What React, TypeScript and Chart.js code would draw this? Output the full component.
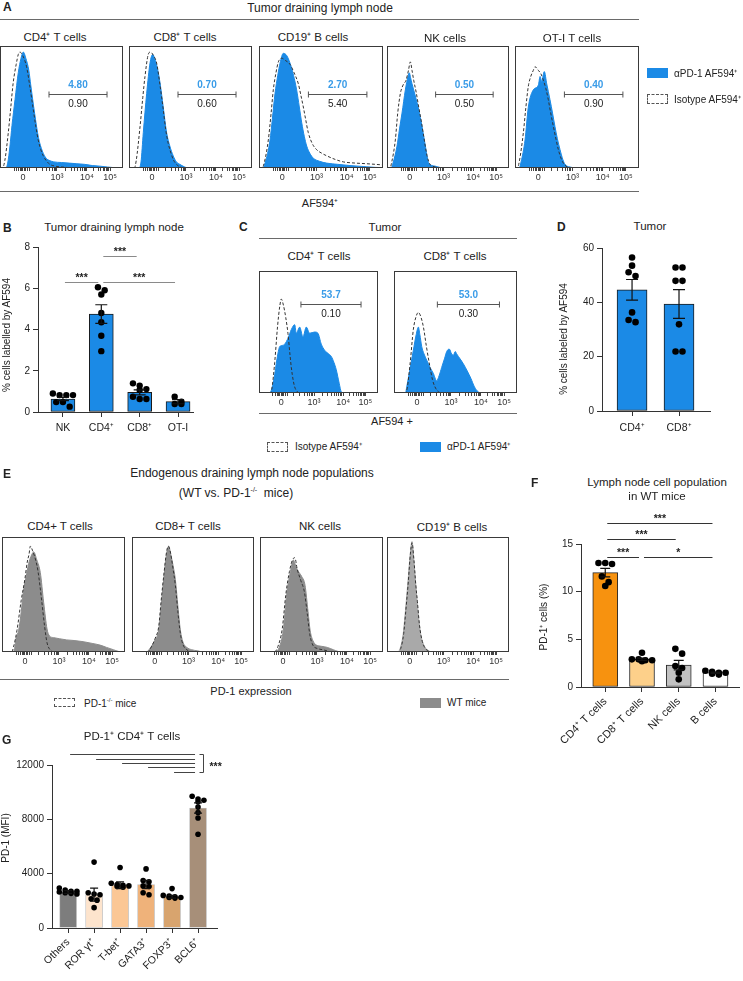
import React, { useEffect, useRef } from 'react';
import { Chart, registerables } from 'chart.js';
Chart.register(...registerables);

const FONT = '"Liberation Sans", Arial, Helvetica, sans-serif';
Chart.defaults.font.family = FONT;
Chart.defaults.color = '#222';

// ---------------- histogram axis (channel units 0..1024) ----------------
const HIST_TICK_MAJOR = [191, 474, 724, 916];
const HIST_TICK_LABELS = ['0', '10³', '10⁴', '10⁵'];
const HIST_TICK_MINOR = [120, 140, 155, 168, 180, 202, 214, 228, 245, 300, 350, 390, 415, 435, 450, 462,
  549, 593, 624, 649, 669, 685, 700, 712, 782, 816, 840, 858, 873, 886, 897, 907];

// ---------------- Panel A: tumor draining lymph node (channel, % of max) ----------------
const A_CD4_AF = [[0,0],[48,0],[64,4],[83,18],[100,35],[125,56],[152,78],[175,90],[194,95],[215,90],[240,80],[256,68],[288,45],[320,25],[352,14],[384,8],[416,6],[448,5],[512,4.5],[576,4],[640,3.5],[704,3],[768,2],[832,1.5],[896,0.8],[960,0.2],[1000,0],[1024,0]];
const A_CD4_ISO = [[0,0],[20,0],[40,6],[69,29],[90,50],[110,70],[135,85],[152,93],[166,95],[190,92],[221,83],[250,66],[277,48],[300,33],[318,23],[340,15],[360,10],[385,6],[415,3],[460,1.5],[550,0.5],[600,0],[1024,0]];
const A_CD8_AF = [[0,0],[80,0],[100,5],[119,29],[147,61],[175,86],[197,93],[220,88],[240,80],[258,70],[285,50],[313,29],[340,18],[368,10],[395,5],[423,3],[460,1],[490,0],[1024,0]];
const A_CD8_ISO = [[0,0],[45,0],[60,6],[92,34],[115,58],[133,75],[160,93],[178,95],[205,92],[230,86],[258,68],[285,48],[305,32],[327,20],[350,12],[368,7],[395,3],[423,1],[460,0],[1024,0]];
const A_CD19_AF = [[0,0],[30,0],[50,4],[91,23],[110,40],[132,61],[155,76],[174,86],[201,94],[230,92],[256,86],[285,76],[311,64],[333,50],[353,37],[374,26],[394,18],[420,12],[449,8],[500,5.5],[559,4],[650,3],[751,2],[890,1],[960,0.5],[1024,0.3]];
const A_CD19_ISO = [[0,0],[25,0],[45,5],[77,23],[100,45],[118,64],[140,78],[160,87],[187,90],[220,88],[256,85],[290,78],[325,69],[345,60],[366,50],[385,40],[407,29],[440,20],[476,15],[520,12],[559,10],[630,7],[697,5],[800,4],[890,3.5],[1000,2.7],[1024,2.5]];
const A_NK_AF = [[0,0],[35,0],[50,4],[84,18],[105,32],[126,45],[154,64],[176,75],[187,78],[198,74],[210,69],[238,59],[266,48],[294,34],[322,18],[340,8],[350,4],[405,1.5],[475,0],[1024,0]];
const A_NK_ISO = [[0,0],[25,0],[40,5],[70,23],[90,45],[112,61],[135,68],[160,72],[180,80],[196,87],[210,80],[224,72],[245,62],[266,50],[290,37],[308,26],[336,10],[361,3],[400,1],[450,0],[1024,0]];
const A_OT_AF = [[0,0],[35,0],[50,5],[83,23],[110,50],[151,64],[193,68],[207,75],[220,71],[242,79],[262,69],[289,56],[310,45],[330,34],[350,24],[372,15],[395,7],[413,3],[468,0.5],[500,0],[1024,0]];
const A_OT_ISO = [[0,0],[20,0],[35,5],[69,29],[90,50],[110,67],[130,75],[151,80],[165,83],[193,80],[215,77],[234,72],[255,65],[275,56],[295,45],[317,34],[340,23],[358,15],[380,8],[399,4],[430,1],[470,0],[1024,0]];
const A_GATE = [408, 891, 61];
const A_GATE_AF = ['4.80', '0.70', '2.70', '0.50', '0.40'];
const A_GATE_ISO = ['0.90', '0.60', '5.40', '0.50', '0.90'];

// ---------------- Panel C: tumor ----------------
const C_CD4_AF = [[0,0],[90,0],[105,2],[130,12],[155,28],[178,38],[200,39],[221,40],[250,45],[278,52],[307,56],[321,49],[350,54],[378,46],[407,54],[436,49],[479,50],[507,49],[536,40],[565,35],[600,32],[622,30],[645,25],[665,19],[690,8],[708,1],[730,0],[1024,0]];
const C_CD4_ISO = [[0,0],[95,0],[110,3],[135,25],[160,55],[180,72],[192,77],[210,72],[230,62],[249,49],[265,33],[278,21],[295,10],[307,5],[330,1],[360,0],[1024,0]];
const C_CD8_AF = [[0,0],[95,0],[106,5],[130,18],[161,35],[185,48],[203,54],[215,48],[231,38],[250,32],[272,27],[300,21],[328,16],[355,10],[375,14],[397,21],[420,28],[439,34],[460,36],[480,32],[494,31],[510,34],[522,32],[550,28],[577,24],[610,18],[640,12],[670,5],[700,1],[730,0],[1024,0]];
const C_CD8_ISO = [[0,0],[95,0],[110,4],[135,25],[161,52],[185,63],[203,66],[225,62],[245,54],[270,38],[300,21],[320,11],[341,5],[370,1],[400,0],[1024,0]];
const C_GATE = [361, 878, 73];
const C_GATE_AF = ['53.7', '53.0'];
const C_GATE_ISO = ['0.10', '0.30'];

// ---------------- Panel E: WT vs PD-1-/- ----------------
const E_CD4_WT = [[0,0],[90,0],[105,3],[117,12],[139,19],[160,35],[181,55],[200,65],[222,77],[241,83],[264,87],[290,80],[319,69],[347,43],[375,20],[395,14],[430,12.5],[480,11.5],[539,10.5],[600,10],[675,9],[750,7.5],[816,6],[870,4],[927,2],[970,0.5],[1000,0],[1024,0]];
const E_CD4_KO = [[0,0],[80,0],[95,4],[125,19],[160,45],[190,63],[210,78],[225,85],[236,92],[255,88],[280,80],[300,70],[330,45],[355,22],[375,8],[400,2],[430,0],[1024,0]];
const E_CD8_WT = [[0,0],[120,0],[150,3],[190,10],[224,19],[245,40],[266,63],[290,85],[308,92],[325,85],[345,75],[364,63],[385,40],[406,19],[430,8],[460,4],[500,2],[550,1],[600,0],[1024,0]];
const E_CD8_KO = [[0,0],[130,0],[160,4],[195,12],[224,22],[245,45],[266,66],[290,87],[305,92],[320,88],[345,72],[364,58],[385,35],[406,16],[430,6],[460,2],[500,0],[1024,0]];
const E_NK_WT = [[0,0],[130,0],[160,4],[194,19],[222,50],[250,68],[278,80],[300,74],[320,70],[345,66],[375,58],[400,35],[417,19],[440,10],[470,6],[510,5],[560,4],[610,2],[650,0.5],[700,0],[1024,0]];
const E_NK_KO = [[0,0],[120,0],[150,5],[185,20],[215,50],[245,70],[270,80],[290,82],[310,72],[340,62],[370,52],[395,32],[415,15],[440,6],[480,3],[520,2],[560,1],[600,0],[1024,0]];
const E_CD19_WT = [[0,0],[90,0],[110,3],[135,15],[154,35],[175,60],[195,85],[210,96],[225,80],[240,60],[252,45],[270,25],[290,12],[320,4],[350,1],[380,0],[1024,0]];
const E_CD19_KO = [[0,0],[95,0],[115,3],[140,16],[158,36],[178,60],[197,86],[210,95],[226,80],[242,58],[255,44],[272,24],[292,11],[322,3],[352,1],[380,0],[1024,0]];

// ---------------- Panel B ----------------
const B_CATS = ['NK', 'CD4⁺', 'CD8⁺', 'OT-I'];
const B_MEANS = [0.63, 4.75, 0.95, 0.5];
const B_SEM = [0.08, 0.45, 0.12, 0.1];
const B_NK = [0.82, 0.82, 0.82, 0.9, 0.48, 0.26, 0.48];
const B_CD4 = [6.05, 5.7, 5.9, 4.8, 4.35, 3.7, 2.95];
const B_CD8 = [1.28, 1.07, 1.11, 1.39, 0.63, 0.63, 0.74];
const B_OT = [0.39, 0.39, 0.5, 0.74];
const B_YTICKS = [0, 2, 4, 6, 8];
const B_SIG_FROM = [0, 1, 1];
const B_SIG_TO = [1, 3, 2];
const B_SIG_Y = [6.3, 6.3, 7.56];
const B_SIG_LABEL = ['***', '***', '***'];

// ---------------- Panel D ----------------
const D_CATS = ['CD4⁺', 'CD8⁺'];
const D_MEANS = [44.6, 39.4];
const D_SEM = [3.8, 5.3];
const D_CD4 = [56.5, 53.5, 49.7, 51.1, 36.3, 32.7, 33.5];
const D_CD8 = [52.8, 52.8, 47.9, 47.9, 31.9, 21.9, 21.9];
const D_YTICKS = [0, 20, 40, 60];

// ---------------- Panel F ----------------
const F_CATS = ['CD4⁺ T cells', 'CD8⁺ T cells', 'NK cells', 'B cells'];
const F_MEANS = [12.0, 2.9, 2.3, 1.5];
const F_SEM = [0.45, 0.12, 0.5, 0.07];
const F_CD4 = [13.0, 12.9, 13.0, 11.6, 10.6, 11.0];
const F_CD8 = [2.9, 2.8, 2.9, 3.6, 2.8, 2.7];
const F_NK = [4.0, 3.5, 2.2, 2.0, 0.8, 1.5];
const F_B = [1.7, 1.5, 1.4, 1.6, 1.5, 1.3];
const F_YTICKS = [0, 5, 10, 15];
const F_SIG_FROM = [0, 0, 0, 1];
const F_SIG_TO = [3, 2, 1, 3];
const F_SIG_Y = [17.2, 15.5, 13.6, 13.6];
const F_SIG_LABEL = ['***', '***', '***', '*'];

// ---------------- Panel G ----------------
const G_CATS = ['Others', 'ROR γt⁺', 'T-bet⁺', 'GATA3⁺', 'FOXP3⁺', 'BCL6⁺'];
const G_MEANS = [2650, 2450, 3150, 3200, 2300, 8830];
const G_SEM = [100, 480, 250, 300, 100, 380];
const G_OTHERS = [2950, 2800, 2700, 2600, 2700, 2550, 2650, 2500];
const G_ROR = [4850, 2600, 2450, 2500, 2050, 2150, 1500];
const G_TBET = [4450, 3300, 3200, 3100, 3050, 3000, 3150];
const G_GATA3 = [4350, 3500, 3400, 3100, 3050, 2600, 2450];
const G_FOXP3 = [2900, 2400, 2350, 2300, 2250, 2200, 2250];
const G_BCL6 = [9700, 9500, 9300, 9400, 8900, 8500, 6900, 8100];
const G_YTICKS = [0, 4000, 8000, 12000];
const G_SIG_FROM = [0, 1, 2, 3, 4];
const G_SIG_TO = [5, 5, 5, 5, 5];
const G_SIG_Y = [12844, 12477, 12183, 11816, 11450];
const G_SIG_LABEL = ['', '', '', '', ''];

// ---------------- colours ----------------
const BLUE = '#1b8ae6';
const BLUE_TXT = '#3a9ce8';
const GRAY_FILL = '#8c8c8c';
const GRAY_LIGHT = '#a9a9a9';

const toXY = (c: number[][]) => c.map(([x, y]) => ({ x, y }));

function Hist({ box, fill, dash, color, gate }: any) {
  const ref = useRef<HTMLCanvasElement>(null);
  const [bx, by, bw, bh] = box;
  useEffect(() => {
    const plug = {
      id: 'boxgate',
      afterDraw(chart: any) {
        const { ctx, chartArea: a, scales } = chart;
        ctx.save();
        ctx.strokeStyle = '#3a3a3a';
        ctx.lineWidth = 1;
        ctx.strokeRect(Math.round(a.left) + 0.5, Math.round(a.top) + 0.5, Math.round(a.right - a.left) - 1, Math.round(a.bottom - a.top) - 1);
        if (gate) {
          const x1 = scales.x.getPixelForValue(gate.from);
          const x2 = scales.x.getPixelForValue(gate.to);
          const y = Math.round(scales.y.getPixelForValue(gate.y)) + 0.5;
          ctx.strokeStyle = '#555';
          ctx.beginPath();
          ctx.moveTo(x1, y); ctx.lineTo(x2, y);
          ctx.moveTo(x1, y - 3); ctx.lineTo(x1, y + 3);
          ctx.moveTo(x2, y - 3); ctx.lineTo(x2, y + 3);
          ctx.stroke();
          ctx.textAlign = 'center';
          ctx.textBaseline = 'middle';
          ctx.font = `bold 10px ${FONT}`;
          ctx.fillStyle = BLUE_TXT;
          ctx.fillText(gate.top, (x1 + x2) / 2, y - 9);
          ctx.font = `10px ${FONT}`;
          ctx.fillStyle = '#222';
          ctx.fillText(gate.bottom, (x1 + x2) / 2, y + 10);
        }
        ctx.restore();
      },
    };
    const chart = new Chart(ref.current as HTMLCanvasElement, {
      type: 'line',
      data: {
        datasets: [
          { data: toXY(dash), borderColor: '#333', borderWidth: 1, borderDash: [3, 2], fill: false, pointRadius: 0, cubicInterpolationMode: 'monotone', order: 0 } as any,
          { data: toXY(fill), borderColor: color, backgroundColor: color, borderWidth: 1, fill: 'origin', pointRadius: 0, cubicInterpolationMode: 'monotone', order: 1 } as any,
        ],
      },
      options: {
        responsive: false, animation: false, devicePixelRatio: 1, events: [],
        layout: { padding: { left: 1, right: 1, top: 1, bottom: 0 } },
        plugins: { legend: { display: false }, tooltip: { enabled: false } },
        scales: {
          x: {
            type: 'linear', min: 0, max: 1024,
            afterBuildTicks: (s: any) => { s.ticks = [...HIST_TICK_MAJOR, ...HIST_TICK_MINOR].sort((a, b) => a - b).map((v) => ({ value: v })); },
            afterFit: (s: any) => { s.height = 17; s.paddingLeft = 0; s.paddingRight = 0; },
            ticks: {
              autoSkip: false, maxRotation: 0, minRotation: 0, padding: 1, color: '#333', font: { size: 9 },
              callback: (v: any) => { const k = HIST_TICK_MAJOR.indexOf(Number(v)); return k >= 0 ? HIST_TICK_LABELS[k] : ''; },
            },
            grid: { drawOnChartArea: false, drawTicks: true, tickLength: 3, color: '#444' },
            border: { display: false },
          },
          y: { display: false, min: 0, max: 100 },
        },
      } as any,
      plugins: [plug],
    });
    return () => chart.destroy();
  }, []);
  return <canvas ref={ref} width={bw + 2} height={bh + 18} style={{ position: 'absolute', left: bx - 1, top: by - 1, width: bw + 2, height: bh + 18 }} />;
}

function jitter(vals: number[], pxPerY: number, pxPerX: number, diam: number, maxRow: number) {
  const idx = vals.map((_, i) => i).sort((a, b) => vals[b] - vals[a]);
  const rows: number[][] = [];
  for (const i of idx) {
    const last = rows[rows.length - 1];
    if (last && last.length < maxRow && (vals[last[0]] - vals[i]) * pxPerY < diam * 0.95) last.push(i);
    else rows.push([i]);
  }
  const off = new Array(vals.length).fill(0);
  for (const r of rows) r.forEach((i, k) => { off[i] = ((k - (r.length - 1) / 2) * diam * 1.05) / pxPerX; });
  return off;
}

function BarPanel(p: any) {
  const ref = useRef<HTMLCanvasElement>(null);
  const [cx, cy, cw, ch] = p.canvas;
  useEffect(() => {
    const [al, ar, at, ab] = p.area;
    const yW = al - cx, padTop = at - cy, padRight = cx + cw - ar, xH = cy + ch - ab;
    const yMax = p.yTicks[p.yTicks.length - 1];
    const pxPerY = (ab - at) / yMax;
    const pxPerX = (ar - al) / (p.xRange[1] - p.xRange[0]);
    const dots: any[] = [];
    p.points.forEach((vals: number[], i: number) => {
      const off = jitter(vals, pxPerY, pxPerX, p.dotR * 2, p.maxRow);
      vals.forEach((v, k) => dots.push({ x: i + off[k], y: v }));
    });
    const extras = {
      id: 'extras',
      afterDatasetsDraw(chart: any) {
        const { ctx, scales } = chart;
        ctx.save();
        ctx.strokeStyle = '#111';
        ctx.lineWidth = 1.2;
        p.means.forEach((m: number, i: number) => {
          const x = scales.x.getPixelForValue(i);
          const yt = scales.y.getPixelForValue(m + p.sems[i]);
          const yb = scales.y.getPixelForValue(m - p.sems[i]);
          const h = p.capPx / 2;
          ctx.beginPath();
          ctx.moveTo(x, yt); ctx.lineTo(x, yb);
          ctx.moveTo(x - h, yt); ctx.lineTo(x + h, yt);
          ctx.moveTo(x - h, yb); ctx.lineTo(x + h, yb);
          ctx.stroke();
        });
        ctx.restore();
      },
      afterDraw(chart: any) {
        if (!p.sigFrom) return;
        const { ctx, scales } = chart;
        ctx.save();
        ctx.strokeStyle = p.sigColor || '#555';
        ctx.lineWidth = 1;
        ctx.fillStyle = '#222';
        ctx.textAlign = 'center';
        ctx.textBaseline = 'alphabetic';
        ctx.font = `bold 10.5px ${FONT}`;
        let ymin = Infinity, ymax = -Infinity, xend = 0;
        p.sigFrom.forEach((f: number, k: number) => {
          const x1 = scales.x.getPixelForValue(f) + 2;
          const x2 = scales.x.getPixelForValue(p.sigTo[k]) - 3;
          const y = Math.round(scales.y.getPixelForValue(p.sigY[k])) + 0.5;
          ymin = Math.min(ymin, y); ymax = Math.max(ymax, y); xend = Math.max(xend, x2);
          ctx.beginPath(); ctx.moveTo(x1, y); ctx.lineTo(x2, y); ctx.stroke();
          if (p.sigLabel[k]) ctx.fillText(p.sigLabel[k], (x1 + x2) / 2, y - 1.5);
        });
        if (p.bracket) {
          const bx = Math.round(xend + 8) + 0.5;
          ctx.beginPath();
          ctx.moveTo(bx - 4, ymin); ctx.lineTo(bx, ymin); ctx.lineTo(bx, ymax); ctx.lineTo(bx - 4, ymax);
          ctx.stroke();
          ctx.textAlign = 'left';
          ctx.fillText(p.bracket, bx + 6, (ymin + ymax) / 2 + 6);
        }
        ctx.restore();
      },
    };
    const grid = { drawOnChartArea: false, drawTicks: true, tickLength: 5, color: '#333', lineWidth: 1, offset: false };
    const border = { display: true, color: '#333', width: 1 };
    const chart = new Chart(ref.current as HTMLCanvasElement, {
      type: 'bar',
      data: {
        datasets: [
          { type: 'scatter', data: dots, pointRadius: p.dotR, pointBackgroundColor: '#000', pointBorderWidth: 0, order: 0 } as any,
          { type: 'bar', data: p.means.map((m: number, i: number) => ({ x: i, y: m })), backgroundColor: p.colors, borderColor: p.borderColor, borderWidth: p.borderWidth, borderSkipped: false, barThickness: p.barPx, order: 1 } as any,
        ],
      },
      options: {
        responsive: false, animation: false, devicePixelRatio: 1, events: [],
        layout: { padding: { left: 0, top: padTop, right: padRight, bottom: 0 } },
        plugins: { legend: { display: false }, tooltip: { enabled: false } },
        scales: {
          x: {
            type: 'linear', min: p.xRange[0], max: p.xRange[1], offset: false,
            afterBuildTicks: (s: any) => { s.ticks = p.cats.map((_: any, i: number) => ({ value: i })); },
            afterFit: (s: any) => { s.height = xH; s.paddingLeft = 0; s.paddingRight = 0; },
            ticks: { autoSkip: false, minRotation: p.rot, maxRotation: p.rot, padding: p.xPad, color: '#222', font: { size: p.xFont || 10 }, callback: (_v: any, i: number) => p.cats[i] },
            grid, border,
          },
          y: {
            min: 0, max: yMax,
            afterBuildTicks: (s: any) => { s.ticks = p.yTicks.map((v: number) => ({ value: v })); },
            afterFit: (s: any) => { s.width = yW; s.paddingTop = 0; s.paddingBottom = 0; },
            ticks: { padding: 3, color: '#222', font: { size: 10 }, callback: (v: any) => String(v) },
            grid, border,
          },
        },
      } as any,
      plugins: [extras],
    });
    return () => chart.destroy();
  }, []);
  return <canvas ref={ref} width={cw} height={ch} style={{ position: 'absolute', left: cx, top: cy, width: cw, height: ch }} />;
}

function T({ x, y, s = 11, b = false, a = 'c', rot = 0, color = '#222', children }: any) {
  const tx = a === 'c' ? '-50%' : a === 'r' ? '-100%' : '0';
  return (
    <div style={{ position: 'absolute', left: x, top: y, transform: `translate(${tx}, -50%)${rot ? ` rotate(${rot}deg)` : ''}`, fontSize: s, fontWeight: b ? 700 : 400, whiteSpace: 'nowrap', lineHeight: 1, color }}>
      {children}
    </div>
  );
}

function HL({ x1, x2, y, c = '#6a6a6a' }: any) {
  return <div style={{ position: 'absolute', left: x1, top: y, width: x2 - x1, height: 0, borderTop: `1px solid ${c}` }} />;
}

function Swatch({ x, y, w = 21, h = 10, fill, dashed }: any) {
  return <div style={{ position: 'absolute', left: x, top: y, width: w, height: h, boxSizing: 'border-box', background: fill || 'transparent', border: dashed ? '1px dashed #555' : 'none' }} />;
}

export default function App() {
  const gA = (i: number) => ({ from: A_GATE[0], to: A_GATE[1], y: A_GATE[2], top: A_GATE_AF[i], bottom: A_GATE_ISO[i] });
  const gC = (i: number) => ({ from: C_GATE[0], to: C_GATE[1], y: C_GATE[2], top: C_GATE_AF[i], bottom: C_GATE_ISO[i] });
  return (
    <div style={{ position: 'absolute', left: 0, top: 0, width: 743, height: 981, background: '#fff', fontFamily: FONT, color: '#222', overflow: 'hidden' }}>
      {/* Panel A */}
      <Hist box={[0, 46, 123, 122]} fill={A_CD4_AF} dash={A_CD4_ISO} color={BLUE} gate={gA(0)} />
      <Hist box={[129, 46, 123, 122]} fill={A_CD8_AF} dash={A_CD8_ISO} color={BLUE} gate={gA(1)} />
      <Hist box={[259, 46, 124, 122]} fill={A_CD19_AF} dash={A_CD19_ISO} color={BLUE} gate={gA(2)} />
      <Hist box={[387, 46, 122, 122]} fill={A_NK_AF} dash={A_NK_ISO} color={BLUE} gate={gA(3)} />
      <Hist box={[515, 46, 124, 122]} fill={A_OT_AF} dash={A_OT_ISO} color={BLUE} gate={gA(4)} />
      {/* Panel C */}
      <Hist box={[259, 271, 119, 122]} fill={C_CD4_AF} dash={C_CD4_ISO} color={BLUE} gate={gC(0)} />
      <Hist box={[394, 271, 123, 122]} fill={C_CD8_AF} dash={C_CD8_ISO} color={BLUE} gate={gC(1)} />
      {/* Panel E */}
      <Hist box={[2, 537, 123, 115]} fill={E_CD4_WT} dash={E_CD4_KO} color={GRAY_FILL} />
      <Hist box={[132, 537, 122, 115]} fill={E_CD8_WT} dash={E_CD8_KO} color={GRAY_FILL} />
      <Hist box={[260, 537, 123, 115]} fill={E_NK_WT} dash={E_NK_KO} color={GRAY_FILL} />
      <Hist box={[387, 537, 122, 115]} fill={E_CD19_WT} dash={E_CD19_KO} color={GRAY_LIGHT} />

      {/* Panel B */}
      <BarPanel canvas={[0, 236, 200, 204]} area={[38, 193, 247, 412]} xRange={[-0.65, 3.39]} cats={B_CATS} means={B_MEANS} sems={B_SEM}
        points={[B_NK, B_CD4, B_CD8, B_OT]} colors={BLUE} borderColor="#1a1a1a" borderWidth={1} barPx={24} dotR={3.2} capPx={12} maxRow={4}
        yTicks={B_YTICKS} rot={0} xPad={5} xFont={10.5} sigFrom={B_SIG_FROM} sigTo={B_SIG_TO} sigY={B_SIG_Y} sigLabel={B_SIG_LABEL} sigColor="#8a8a8a" />
      {/* Panel D */}
      <BarPanel canvas={[552, 236, 191, 204]} area={[602, 710, 248, 411]} xRange={[-0.64, 1.66]} cats={D_CATS} means={D_MEANS} sems={D_SEM}
        points={[D_CD4, D_CD8]} colors={BLUE} borderColor="#1a1a1a" borderWidth={1} barPx={30} dotR={3.3} capPx={12} maxRow={3}
        yTicks={D_YTICKS} rot={0} xPad={6} xFont={10.5} />
      {/* Panel F */}
      <BarPanel canvas={[531, 500, 212, 281]} area={[581, 743, 544, 687]} xRange={[-0.66, 3.64]} cats={F_CATS} means={F_MEANS} sems={F_SEM}
        points={[F_CD4, F_CD8, F_NK, F_B]} colors={['#f7920f', '#fdd08a', '#c2c2c2', '#ffffff']} borderColor="#2a2a2a" borderWidth={1} barPx={25} dotR={3.3} capPx={10} maxRow={4}
        yTicks={F_YTICKS} rot={45} xPad={3} xFont={11} sigFrom={F_SIG_FROM} sigTo={F_SIG_TO} sigY={F_SIG_Y} sigLabel={F_SIG_LABEL} sigColor="#333" />
      {/* Panel G */}
      <BarPanel canvas={[0, 740, 245, 241]} area={[52, 217, 765, 928]} xRange={[-0.62, 5.73]} cats={G_CATS} means={G_MEANS} sems={G_SEM}
        points={[G_OTHERS, G_ROR, G_TBET, G_GATA3, G_FOXP3, G_BCL6]} colors={['#7d7d7d', '#fde4cd', '#fbc795', '#efb27a', '#d8a46e', '#a78f79']} borderColor="rgba(0,0,0,0.25)" borderWidth={0.8} barPx={17} dotR={2.8} capPx={8} maxRow={4}
        yTicks={G_YTICKS} rot={45} xPad={3} xFont={10.5} sigFrom={G_SIG_FROM} sigTo={G_SIG_TO} sigY={G_SIG_Y} sigLabel={G_SIG_LABEL} sigColor="#444" bracket="***" />

      {/* ---- Panel A text ---- */}
      <T x={3} y={7} s={12} b a="l">A</T>
      <T x={320} y={8} s={12}>Tumor draining lymph node</T>
      <HL x1={0} x2={639} y={19} />
      <T x={55} y={38} s={11.5}>CD4⁺ T cells</T>
      <T x={185} y={38} s={11.5}>CD8⁺ T cells</T>
      <T x={313} y={38} s={11.5}>CD19⁺ B cells</T>
      <T x={445} y={39} s={11.5}>NK cells</T>
      <T x={572} y={39} s={11.5}>OT-I T cells</T>
      <HL x1={0} x2={639} y={191} />
      <T x={320} y={203} s={11}>AF594⁺</T>
      <Swatch x={647} y={68} fill={BLUE} />
      <T x={674} y={74} s={10} a="l">αPD-1 AF594⁺</T>
      <Swatch x={647} y={94} dashed />
      <T x={674} y={100} s={10} a="l">Isotype AF594⁺</T>

      {/* ---- Panel B text ---- */}
      <T x={3} y={228} s={12} b a="l">B</T>
      <T x={114} y={228} s={11.5}>Tumor draining lymph node</T>
      <T x={7} y={335} s={10} rot={-90}>% cells labelled by AF594</T>

      {/* ---- Panel C text ---- */}
      <T x={239} y={227} s={12} b a="l">C</T>
      <T x={385} y={228} s={11.5}>Tumor</T>
      <HL x1={259} x2={517} y={238} />
      <T x={319} y={257} s={11.5}>CD4⁺ T cells</T>
      <T x={455} y={257} s={11.5}>CD8⁺ T cells</T>
      <HL x1={259} x2={517} y={413} />
      <T x={392} y={421} s={11}>AF594 +</T>
      <Swatch x={267} y={442} dashed />
      <T x={295} y={447} s={10} a="l">Isotype AF594⁺</T>
      <Swatch x={420} y={442} fill={BLUE} />
      <T x={447} y={447} s={10} a="l">αPD-1 AF594⁺</T>

      {/* ---- Panel D text ---- */}
      <T x={557} y={227} s={12} b a="l">D</T>
      <T x={650} y={227} s={11.5}>Tumor</T>
      <T x={564} y={339} s={10} rot={-90}>% cells labeled by AF594</T>

      {/* ---- Panel E text ---- */}
      <T x={3} y={474} s={12} b a="l">E</T>
      <T x={252} y={473} s={12}>Endogenous draining lymph node populations</T>
      <T x={236} y={492} s={12}>(WT vs. PD-1<sup style={{ fontSize: 7 }}>-/-</sup>&nbsp; mice)</T>
      <T x={60} y={527} s={11.5}>CD4+ T cells</T>
      <T x={188} y={527} s={11.5}>CD8+ T cells</T>
      <T x={320} y={527} s={11.5}>NK cells</T>
      <T x={452} y={528} s={11.5}>CD19⁺ B cells</T>
      <HL x1={0} x2={509} y={679} />
      <T x={251} y={691} s={11}>PD-1 expression</T>
      <Swatch x={54} y={698} h={9} dashed />
      <T x={84} y={703} s={10} a="l">PD-1<sup style={{ fontSize: 6 }}>-/-</sup> mice</T>
      <Swatch x={420} y={698} h={10} fill={GRAY_FILL} />
      <T x={447} y={703} s={10} a="l">WT mice</T>

      {/* ---- Panel F text ---- */}
      <T x={531} y={483} s={12} b a="l">F</T>
      <T x={657} y={483} s={11.5}>Lymph node cell population</T>
      <T x={657} y={497} s={11.5}>in WT mice</T>
      <T x={544} y={617} s={10} rot={-90}>PD-1⁺ cells (%)</T>

      {/* ---- Panel G text ---- */}
      <T x={2} y={740} s={12} b a="l">G</T>
      <T x={132} y={737} s={11.5}>PD-1⁺ CD4⁺ T cells</T>
      <T x={6} y={838} s={10} rot={-90}>PD-1 (MFI)</T>
    </div>
  );
}
